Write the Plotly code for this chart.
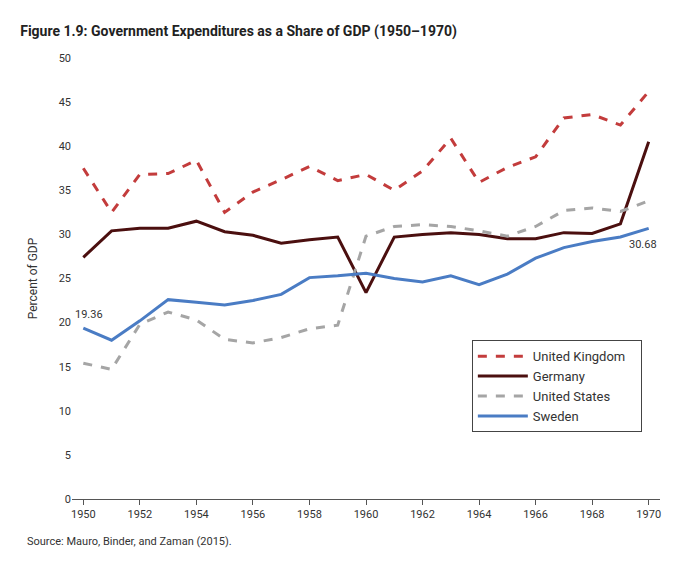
import plotly.graph_objects as go

years = list(range(1950, 1971))
uk = [37.5, 32.5, 36.8, 36.9, 38.4, 32.5, 34.8, 36.2, 37.7, 36.1, 36.8, 35.0, 37.2, 40.9, 35.9, 37.6, 38.8, 43.2, 43.6, 42.4, 46.2]
germany = [27.4, 30.4, 30.7, 30.7, 31.5, 30.3, 29.9, 29.0, 29.4, 29.7, 23.4, 29.7, 30.0, 30.2, 30.0, 29.5, 29.5, 30.2, 30.1, 31.2, 40.5]
us = [15.4, 14.7, 19.8, 21.2, 20.3, 18.1, 17.7, 18.3, 19.3, 19.7, 29.8, 30.9, 31.1, 30.9, 30.4, 29.8, 30.9, 32.7, 33.0, 32.6, 33.8]
sweden = [19.36, 18.0, 20.2, 22.6, 22.3, 22.0, 22.5, 23.2, 25.1, 25.3, 25.6, 25.0, 24.6, 25.3, 24.3, 25.5, 27.3, 28.5, 29.2, 29.7, 30.68]

font = "Roboto"
fig = go.Figure()
fig.add_trace(go.Scatter(x=years, y=uk, name="United Kingdom   ", mode="lines",
                         line=dict(color="#c33c3c", width=3, dash="dash")))
fig.add_trace(go.Scatter(x=years, y=germany, name="Germany", mode="lines",
                         line=dict(color="#4b0f0f", width=3)))
fig.add_trace(go.Scatter(x=years, y=us, name="United States", mode="lines",
                         line=dict(color="#a5a5a5", width=3, dash="dash")))
fig.add_trace(go.Scatter(x=years, y=sweden, name="Sweden", mode="lines",
                         line=dict(color="#4a7cc4", width=3)))

fig.add_annotation(x=years[0], y=sweden[0], text=f"{sweden[0]:.2f}", showarrow=False,
                   yshift=14, xshift=6, font=dict(size=11, color="#333"))
fig.add_annotation(x=years[-1], y=sweden[-1], text=f"{sweden[-1]:.2f}", showarrow=False,
                   yshift=-16, xshift=-6, font=dict(size=11, color="#333"))

fig.update_layout(
    width=680, height=580, plot_bgcolor="white", paper_bgcolor="white",
    font=dict(family=font, size=11, color="#333"),
    margin=dict(l=64, r=28, t=50, b=89),
    title=dict(text="<b>Figure 1.9: Government Expenditures as a Share of GDP (1950–1970)</b>",
               x=0.018, xanchor="left", y=0.968, font=dict(size=14, color="#222")),
    xaxis=dict(range=[1949.6, 1970.4], tickmode="array", tickvals=list(range(1950, 1971, 2)),
               showline=True, linecolor="#555", ticks="outside", ticklen=5, tickcolor="#555",
               showgrid=False, zeroline=False),
    yaxis=dict(range=[0, 50], dtick=5, showgrid=False, zeroline=False,
               title=dict(text="Percent of GDP", standoff=18, font=dict(size=12))),
    legend=dict(x=0.68, y=0.36, xanchor="left", yanchor="top", bordercolor="#444", borderwidth=1,
                font=dict(size=13), tracegroupgap=10, itemwidth=50, bgcolor="white"),
)
fig.add_annotation(xref="paper", yref="paper", x=-0.08, y=-0.115, xanchor="left", showarrow=False,
                   text="Source: Mauro, Binder, and Zaman (2015).", font=dict(size=11, color="#333"))
fig.write_html("out.html")
